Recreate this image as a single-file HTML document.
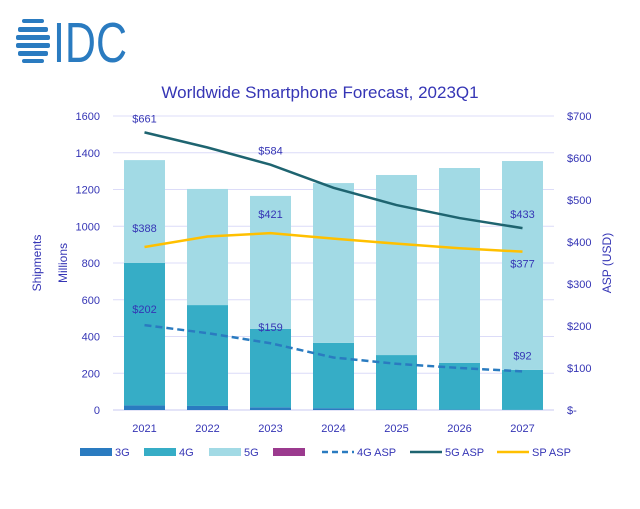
<!DOCTYPE html>
<html><head><meta charset="utf-8"><style>
body{margin:0;background:#fff;width:640px;height:504px;overflow:hidden;font-family:"Liberation Sans",sans-serif}
svg text{font-family:"Liberation Sans",sans-serif}
</style></head><body>
<svg id="chart" width="640" height="504" viewBox="0 0 640 504" xmlns="http://www.w3.org/2000/svg">
<g>
 <g fill="#2a7bc0">
  <rect x="22" y="19" width="22" height="4" rx="2"/>
  <rect x="18" y="27" width="30" height="5" rx="2"/>
  <rect x="16" y="35" width="34" height="5" rx="2"/>
  <rect x="16" y="43" width="34" height="5" rx="2"/>
  <rect x="18" y="51" width="30" height="5" rx="2"/>
  <rect x="22" y="59" width="22" height="4" rx="2"/>
 </g>
 <text x="53" y="62" font-size="57" fill="#2a7bc0" textLength="74" lengthAdjust="spacingAndGlyphs">IDC</text>
</g>
<text x="320" y="98" text-anchor="middle" font-size="17" fill="#3535b5">Worldwide Smartphone Forecast, 2023Q1</text>
<text transform="translate(41,263) rotate(-90)" text-anchor="middle" font-size="12" fill="#3535b5">Shipments</text>
<text transform="translate(67,263) rotate(-90)" text-anchor="middle" font-size="12" fill="#3535b5">Millions</text>
<text transform="translate(611,263) rotate(-90)" text-anchor="middle" font-size="12" fill="#3535b5">ASP (USD)</text>
<g id="grid"></g><g id="bars"></g><g id="lines"></g><g id="labels"></g><g id="legend"></g>
</svg>
<script>
const categories=["2021","2022","2023","2024","2025","2026","2027"];
const g3=[25,22,15,10,3,2,1];
const g4=[775,549,426,355,296,254,217];
const g5=[560,632,724,870,980,1061,1137];
const asp4g=[202,183,159,125,110,100,92];
const asp5g=[661,625,584,529,488,457,433];
const aspSP=[388,413,421,408,396,385,377];
const leftTicks=[0,200,400,600,800,1000,1200,1400,1600];
const rightTicks=["$-","$100","$200","$300","$400","$500","$600","$700"];
const labels4g=[[0,"$202"],[2,"$159"],[6,"$92"]];
const labels5g=[[0,"$661"],[2,"$584"],[6,"$433"]];
const NS="http://www.w3.org/2000/svg";
const X0=113,X1=554,Y0=410,Y1=116;
const step=(X1-X0)/categories.length;
const xc=i=>X0+step*(i+0.5);
const yL=v=>Y0-(v/1600)*(Y0-Y1);
const yR=v=>Y0-(v/700)*(Y0-Y1);
function mk(tag,attrs,parent,txt){const e=document.createElementNS(NS,tag);for(const k in attrs)e.setAttribute(k,attrs[k]);if(txt!==undefined)e.textContent=txt;document.getElementById(parent).appendChild(e);return e;}
const txtc="#3535b5";
leftTicks.forEach(v=>{
 const l=mk("line",{x1:X0,x2:X1,y1:yL(v),y2:yL(v),stroke:v===0?"#c8c8f0":"#dcdcf8","stroke-width":1},"grid");
 
 
 const t=mk("text",{x:100,y:yL(v)+4,"text-anchor":"end","font-size":11,fill:txtc},"grid",String(v));
 
 
});
rightTicks.forEach((s,i)=>{
 const t=mk("text",{x:567,y:yR(i*100)+4,"font-size":11,fill:txtc},"grid",s);
 
 
});
categories.forEach((c,i)=>{
 const t=mk("text",{x:xc(i),y:432,"text-anchor":"middle","font-size":11,fill:txtc},"grid",c);
 
 
 const bw=41,bx=xc(i)-bw/2;
 let base=0;
 [[g3,"#2a7bc0"],[g4,"#36adc6"],[g5,"#a2dae5"]].forEach(([arr,col],k)=>{
  const v=arr[i];
  const r=mk("rect",{x:bx,y:yL(base+v),width:bw,height:yL(base)-yL(base+v),fill:col},"bars");
  
  
  base+=v;
 });
});
function line(arr,col,dash,name){
 const p=mk("polyline",{points:arr.map((v,i)=>xc(i)+","+yR(v)).join(" "),fill:"none",stroke:col,"stroke-width":2.5,"stroke-dasharray":dash||"none"},"lines");
 
 
}
line(asp4g,"#2a7bc0","7,4","line-4g-asp");
line(asp5g,"#1e6470",null,"line-5g-asp");
line(aspSP,"#ffc000",null,"line-sp-asp");
function lab(list,arr,dy){list.forEach(([i,s])=>{
 const t=mk("text",{x:xc(i),y:yR(arr[i])+dy,"text-anchor":"middle","font-size":11,fill:txtc},"labels",s);
 
 
});}
lab(labels5g,asp5g,-10);
lab([[0,"$388"],[2,"$421"]],aspSP,-15);
lab([[6,"$377"]],aspSP,16);
lab(labels4g,asp4g,-12);
const leg=[["3G","#2a7bc0","rect",80],["4G","#36adc6","rect",144],["5G","#a2dae5","rect",209],["","#9b3a8e","rect",273],["4G ASP","#2a7bc0","dash",322],["5G ASP","#1e6470","line",410],["SP ASP","#ffc000","line",497]];
leg.forEach(([n,col,type,x])=>{
 if(type==="rect"){const r=mk("rect",{x:x,y:448,width:32,height:8,fill:col},"legend");}
 else{const l=mk("line",{x1:x,x2:x+32,y1:452,y2:452,stroke:col,"stroke-width":2.5,"stroke-dasharray":type==="dash"?"6,4":"none"},"legend");}
 if(n){const t=mk("text",{x:x+35,y:456,"font-size":11,fill:txtc},"legend",n);}
});
</script>
</body></html>
